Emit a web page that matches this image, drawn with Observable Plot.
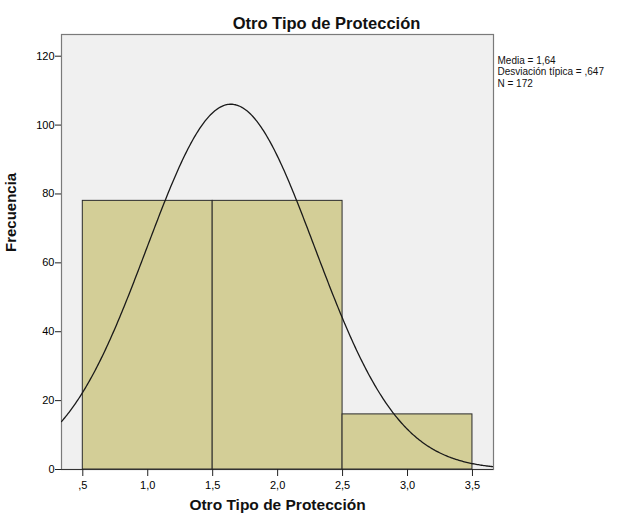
<!DOCTYPE html>
<html><head><meta charset="utf-8">
<script src="https://cdn.jsdelivr.net/npm/d3@7"></script>
<script src="https://cdn.jsdelivr.net/npm/@observablehq/plot@0.6"></script>
<style>body{margin:0;background:#fff;font-family:"Liberation Sans",Arial,sans-serif}</style>
</head><body><div id="chart"></div>
<script>
const binStart = [0.5, 1.5, 2.5];
const binEnd = [1.5, 2.5, 3.5];
const freq = [78, 78, 16];
const xTicks = [0.5, 1.0, 1.5, 2.0, 2.5, 3.0, 3.5];
const xTickLabels = [",5", "1,0", "1,5", "2,0", "2,5", "3,0", "3,5"];
const yTicks = [0, 20, 40, 60, 80, 100, 120];
const mean = 1.64, sd = 0.647, N = 172;
const statsLines = ["Media = 1,64", "Desviación típica = ,647", "N = 172"];
const title = "Otro Tipo de Protección";
const xLabel = "Otro Tipo de Protección";
const yLabel = "Frecuencia";

const bars = binStart.map((s, i) => ({x1: s, x2: binEnd[i], y: freq[i]}));
const xDomain = [0.336, 3.662];
const curve = d3.range(0, 401).map(i => {
  const x = xDomain[0] + (xDomain[1] - xDomain[0]) * i / 400;
  const z = (x - mean) / sd;
  return {x, y: N * 1 * Math.exp(-0.5 * z * z) / (sd * Math.sqrt(2 * Math.PI))};
});

const statsMarks = statsLines.map((line, i) =>
  Plot.text([line], {frameAnchor: "top-right", dx: 4, dy: 22 + i * 11.5, textAnchor: "start", lineAnchor: "top", fontSize: 10, fill: "#111"})
);

const chart = Plot.plot({
  width: 623, height: 516,
  marginLeft: 61, marginRight: 130, marginTop: 34, marginBottom: 47,
  style: {fontFamily: "Liberation Sans, Arial, sans-serif", fontSize: "11px", color: "#000", background: "#fff"},
  x: {domain: xDomain},
  y: {domain: [0, 126.3]},
  marks: [
    Plot.frame({fill: "#f0f0f0", stroke: "#7a7a7a", strokeWidth: 1.2}),
    Plot.rectY(bars, {x1: "x1", x2: "x2", y: "y", fill: "#d3ce97", stroke: "#2a2a2a", strokeWidth: 1}),
    Plot.line(curve, {x: "x", y: "y", stroke: "#1a1a1a", strokeWidth: 1.3, clip: true}),
    Plot.ruleY([0], {stroke: "#333", strokeWidth: 1.2}),
    Plot.axisX({ticks: xTicks, tickFormat: (d) => xTickLabels[xTicks.indexOf(d)], tickSize: 7, tickPadding: 5, stroke: "#222", fontSize: 11, label: null}),
    Plot.axisY({ticks: yTicks, tickSize: 6, tickPadding: 1, stroke: "#222", fontSize: 11, label: null}),
    Plot.text([title], {frameAnchor: "top", dx: 49, dy: -17, fontSize: 16.5, fontWeight: "bold", fill: "#111"}),
    Plot.text([xLabel], {frameAnchor: "bottom", dy: 40, fontSize: 15.5, fontWeight: "bold", fill: "#111"}),
    Plot.text([yLabel], {frameAnchor: "left", dx: -50, rotate: -90, fontSize: 15, fontWeight: "bold", fill: "#111"}),
    ...statsMarks
  ]
});
document.getElementById("chart").appendChild(chart);
</script>
</body></html>
